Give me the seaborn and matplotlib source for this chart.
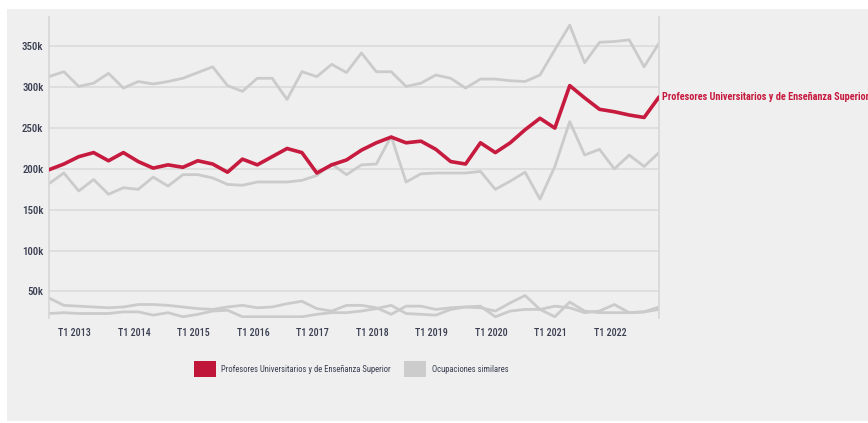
import matplotlib
matplotlib.use("Agg")
import matplotlib.pyplot as plt
from matplotlib.patches import Patch, Rectangle
from matplotlib import font_manager
from matplotlib.transforms import ScaledTranslation
import seaborn as sns
import pandas as pd

# ---- data (thousands) ----
quarters = ["T3 2012", "T4 2012"] + [f"T{q} {y}" for y in range(2013, 2023) for q in range(1, 5)]
profesores = [199, 206, 215, 220, 210, 220, 209, 201, 205, 202, 210, 206, 196, 212, 205,
              215, 225, 220, 195, 205, 211, 223, 232, 239, 232, 234, 224, 209,
              206, 232, 220, 232, 248, 262, 250, 302, 287, 273, 270, 266, 263, 288]
similar_top = [313, 319, 301, 305, 317, 299, 307, 304, 307, 311, 318, 325, 302, 295, 311,
               311, 285, 319, 313, 328, 318, 342, 319, 319, 301, 305, 315, 311,
               299, 310, 310, 308, 307, 315, 346, 376, 330, 355, 356, 358, 325, 354]
similar_mid = [182, 195, 173, 187, 169, 177, 175, 190, 179, 193, 193, 189, 181, 180, 184,
               184, 184, 186, 192, 206, 193, 205, 206, 240, 184, 194, 195, 195,
               195, 197, 175, 185, 196, 163, 203, 258, 217, 224, 200, 217, 203, 220]
similar_low_a = [42, 33, 32, 31, 30, 31, 34, 34, 33, 31, 29, 28, 31, 33, 30,
                 31, 35, 38, 29, 26, 33, 33, 30, 22, 32, 32, 28, 30,
                 31, 30, 26, 36, 45, 28, 19, 37, 26, 24, 24, 24, 25, 28]
similar_low_b = [23, 24, 23, 23, 23, 25, 25, 21, 24, 19, 22, 26, 27, 19, 19,
                 19, 19, 19, 22, 24, 24, 26, 29, 33, 23, 22, 21, 28,
                 31, 32, 19, 26, 28, 28, 32, 30, 24, 26, 34, 24, 25, 31]
yticks = [50, 100, 150, 200, 250, 300, 350]
xtick_labels = [f"T1 {y}" for y in range(2013, 2023)]
legend_labels = ["Profesores Universitarios y de Enseñanza Superior", "Ocupaciones similares"]

RED = "#c61a3e"
GRAY = "#cbcbcb"
BG = "#efefef"
TXT = "#3a3f52"

available = {f.name for f in font_manager.fontManager.ttflist}
def pick(*names):
    for n in names:
        if n in available:
            return n
    return "DejaVu Sans"
FONT = pick("Roboto Condensed", "Liberation Sans Narrow", "Roboto", "Open Sans")

sns.set_theme(style="white")
plt.rcParams["font.family"] = [FONT, "DejaVu Sans"]

fig = plt.figure(figsize=(8.68, 4.23), dpi=100, facecolor="white")
fig.patches.append(Rectangle((7 / 868, 2 / 423), 1, 412 / 423, transform=fig.transFigure,
                             facecolor=BG, edgecolor="none", zorder=-10))
ax = fig.add_axes([49 / 868, 105 / 423, 610 / 868, 301 / 423])
ax.set_facecolor(BG)

x = list(range(len(quarters)))
series = [("a", similar_low_a), ("b", similar_low_b), ("mid", similar_mid), ("top", similar_top)]
for name, vals in series:
    df = pd.DataFrame({"x": x, "v": [v * 1000 for v in vals]})
    sns.lineplot(data=df, x="x", y="v", ax=ax, color=GRAY, linewidth=2.0, zorder=2)
dfp = pd.DataFrame({"x": x, "v": [v * 1000 for v in profesores]})
sns.lineplot(data=dfp, x="x", y="v", ax=ax, color=RED, linewidth=2.6, zorder=3)

ax.set_xlim(0, len(quarters) - 1)
ax.set_ylim(17500, 386000)
ax.set_yticks([v * 1000 for v in yticks])
ax.set_yticklabels([f"{v}k" for v in yticks])
ax.set_xticks([quarters.index(l) for l in xtick_labels])
ax.set_xticklabels(xtick_labels)
ax.set_xlabel("")
ax.set_ylabel("")
ax.yaxis.grid(True, color="#dddddd", linewidth=1.3, zorder=0)
ax.xaxis.grid(False)
ax.tick_params(axis="both", length=0, labelcolor=TXT)
ax.tick_params(axis="y", pad=4, labelsize=7.8)
ax.tick_params(axis="x", pad=7, labelsize=7.2)
shift = ScaledTranslation(-4 / 100, 0, fig.dpi_scale_trans)
for lab in ax.get_xticklabels():
    lab.set_transform(lab.get_transform() + shift)
for lab in ax.get_xticklabels() + ax.get_yticklabels():
    lab.set_fontweight("medium")
for s in ["top", "bottom"]:
    ax.spines[s].set_visible(False)
for s in ["left", "right"]:
    ax.spines[s].set_color("#d6d6d6")
    ax.spines[s].set_linewidth(1.2)

ax.annotate(legend_labels[0], xy=(len(quarters) - 1, profesores[-1] * 1000),
            xytext=(2.5, 0), textcoords="offset points", ha="left", va="center",
            color=RED, fontsize=7.4, fontweight="bold", annotation_clip=False)

handles = [Patch(facecolor="#c0163a", edgecolor="none"), Patch(facecolor="#cccccc", edgecolor="none")]
fig.legend(handles, legend_labels, loc="center", bbox_to_anchor=(351 / 868, 54 / 423),
           ncol=2, frameon=False, fontsize=6.2, handlelength=2.55, handleheight=2.55,
           handletextpad=0.6, columnspacing=1.6, labelcolor=TXT)

fig.savefig("out.png", dpi=100, facecolor="white")
